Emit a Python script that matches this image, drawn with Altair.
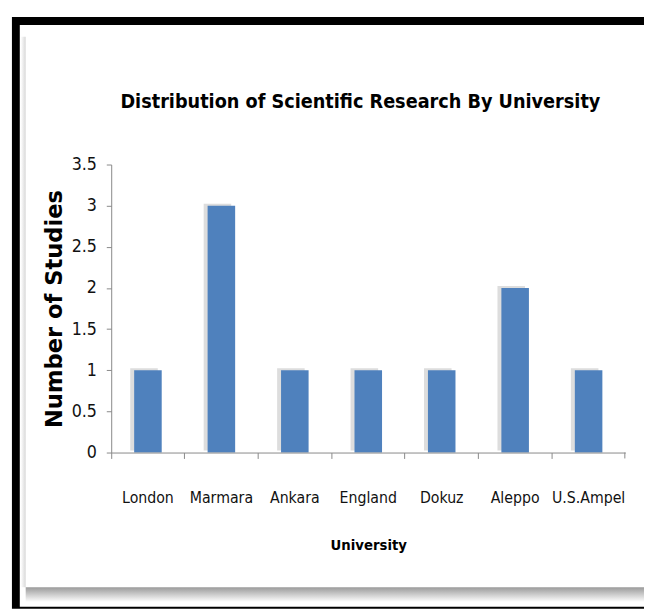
import altair as alt
import pandas as pd

universities = ["London", "Marmara", "Ankara", "England", "Dokuz", "Aleppo", "U.S.Ampel"]
studies = [1, 3, 1, 1, 1, 2, 1]
y_ticks = [0, 0.5, 1, 1.5, 2, 2.5, 3, 3.5]
chart_title = "Distribution of Scientific Research By University"

df = pd.DataFrame({"University": universities, "Studies": studies})
one = pd.DataFrame({"k": [0]})

W, H = 523, 293
NARROW = "'DejaVu Sans Condensed', 'Liberation Sans', sans-serif"

frame = alt.Chart(one).mark_rect(color="black").encode(
    x=alt.value(-101), x2=alt.value(545), y=alt.value(-150), y2=alt.value(452))
inner = alt.Chart(one).mark_rect(color="white").encode(
    x=alt.value(-93), x2=alt.value(545), y=alt.value(-142), y2=alt.value(450))
left_shadow = alt.Chart(one).mark_rect(
    color=alt.LinearGradient(gradient="linear", x1=0, x2=1, y1=0, y2=0,
                             stops=[alt.GradientStop(color="#ffffff", offset=0),
                                    alt.GradientStop(color="#d8d8d8", offset=1)])
).encode(x=alt.value(-92), x2=alt.value(-87), y=alt.value(-130), y2=alt.value(430))
bottom_shadow = alt.Chart(one).mark_rect(
    color=alt.LinearGradient(gradient="linear", x1=0, x2=0, y1=0, y2=1,
                             stops=[alt.GradientStop(color="#9a9a9a", offset=0),
                                    alt.GradientStop(color="#ffffff", offset=1)])
).encode(x=alt.value(-87), x2=alt.value(545), y=alt.value(430), y2=alt.value(445))

title_text = alt.Chart(one).mark_text(
    font=NARROW, fontSize=20, fontWeight="bold", color="#000000",
    align="center", baseline="alphabetic").encode(
    text=alt.value(chart_title), x=alt.value(W / 2 - 8), y=alt.value(-58))

end_tick = alt.Chart(one).mark_rule(color="#888888").encode(
    x=alt.value(W - 0.5), y=alt.value(H), y2=alt.value(H + 6))

xenc = alt.X("University:N", sort=universities,
             scale=alt.Scale(paddingInner=0, paddingOuter=0),
             axis=alt.Axis(title="University", labelAngle=0, bandPosition=0,
                           labelFont=NARROW, labelFontSize=16,
                           labelColor="#111111", labelBaseline="alphabetic",
                           labelPadding=45, tickSize=6, tickColor="#888888",
                           domainColor="#888888", titleFont=NARROW, titleFontSize=15,
                           titleFontWeight="bold", titleColor="#000000", titlePadding=33,
                           zindex=1))
yenc = alt.Y("Studies:Q", scale=alt.Scale(domain=[0, 3.5], nice=False),
             axis=alt.Axis(title="Number of Studies", values=y_ticks, grid=False,
                           labelExpr="'' + datum.value", labelFont=NARROW,
                           labelFontSize=18, labelColor="#111111", labelPadding=10,
                           tickSize=5, tickColor="#888888", domainColor="#888888",
                           titleFont="DejaVu Sans", titleFontSize=23, titleFontWeight="bold",
                           titleColor="#000000", titlePadding=5, zindex=1))

shadow = alt.Chart(df).mark_bar(width=alt.RelativeBandSize(0.375), color="#cfcfcf",
                                 opacity=0.7, xOffset=-4, yOffset=-2).encode(x=xenc, y=yenc)
bars = alt.Chart(df).mark_bar(width=alt.RelativeBandSize(0.375), color="#4F81BD").encode(
    x=xenc, y=yenc)

chart = alt.layer(frame, inner, left_shadow, bottom_shadow, title_text, end_tick,
                  shadow, bars).properties(
    width=W, height=H,
    autosize=alt.AutoSizeParams(type="none"),
    padding={"left": 105, "top": 154, "right": 19, "bottom": 158},
    background="white",
).configure_view(stroke=None)

chart.save("out.html", embed_options={"renderer": "svg", "actions": False})
